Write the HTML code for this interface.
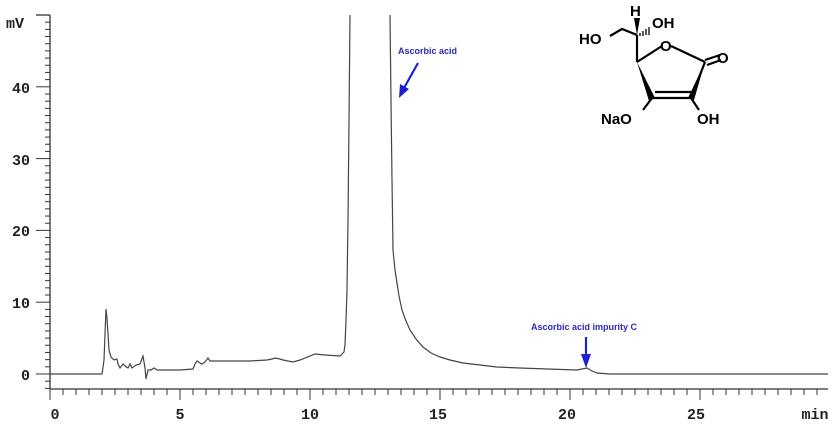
<!DOCTYPE html>
<html><head><meta charset="utf-8"><style>
html,body{margin:0;padding:0;background:#fff;}
svg{display:block;}
</style></head><body>
<svg width="834" height="426" viewBox="0 0 834 426" xmlns="http://www.w3.org/2000/svg">
<rect width="834" height="426" fill="#fff"/>
<g stroke="#333" stroke-width="1.3" fill="none">
<line x1="50" y1="15" x2="50" y2="389"/>
<line x1="36" y1="15" x2="50" y2="15"/>
<line x1="50" y1="389" x2="828" y2="389"/>
</g>
<g id="yt" stroke="#333" stroke-width="1"></g>
<g id="xt" stroke="#333" stroke-width="1"></g>
<g font-family="Liberation Mono, monospace" font-weight="bold" font-size="15" fill="#222">
<text x="6" y="28">mV</text>
<text x="30" y="93" text-anchor="end">40</text>
<text x="30" y="165" text-anchor="end">30</text>
<text x="30" y="236" text-anchor="end">20</text>
<text x="30" y="308" text-anchor="end">10</text>
<text x="30" y="380" text-anchor="end">0</text>
<text x="55" y="419" text-anchor="middle">0</text>
<text x="180" y="419" text-anchor="middle">5</text>
<text x="310" y="419" text-anchor="middle">10</text>
<text x="438" y="419" text-anchor="middle">15</text>
<text x="567" y="419" text-anchor="middle">20</text>
<text x="696" y="419" text-anchor="middle">25</text>
<text x="815" y="419" text-anchor="middle">min</text>
</g>
<path fill="none" stroke="#444" stroke-width="1.2" d="M50,374 L102,374 L104,360 L106,309 L107,318 L109,350 L111,357 L114,360 L117,359 L118,364 L120,368 L123,364 L125,366 L128,368 L130,364 L132,368 L136,365 L140,364 L143,356 L145,368 L146,379 L148,370 L151,370 L154,368 L157,370 L170,370 L180,370 L193,369 L195,364 L197,361 L200,363 L202,364 L205,362 L208,358 L210,361 L212,361 L233,361 L250,361 L267,360 L272,359 L275,358 L280,359 L283,360 L293,362 L300,360 L315,354 L325,355 L340,356 L344,352 L345,345 L346,320 L347,290 L348,220 L349,120 L350,15 M390,15 L391,100 L392,180 L393,250 L395,270 L397,283 L399,296 L402,310 L406,321 L410,330 L416,339 L423,347 L431,353 L440,357 L450,360 L463,363 L480,365 L497,367 L520,368 L547,369 L577,370 L582,369 L587,368 L592,371 L597,373 L610,374 L650,374 L740,374 L828,374"/>
<g font-family="Liberation Sans, sans-serif" font-weight="bold" font-size="9" fill="#2a2ab8">
<text x="398" y="54">Ascorbic acid</text>
<text x="531" y="330">Ascorbic acid impurity C</text>
</g>
<g stroke="#1f1fd0" stroke-width="2.2" fill="#1f1fd0">
<line x1="418" y1="63" x2="404" y2="88"/>
<polygon points="399,98 400,84 409,89" stroke="none"/>
<line x1="586" y1="337" x2="586" y2="358"/>
<polygon points="586,368 581,354 591,354" stroke="none"/>
</g>
<g stroke="#000" stroke-width="2.2" fill="none">
<polyline points="610,36 622,29 637,35"/>
<line x1="637" y1="35" x2="637" y2="62"/>
<line x1="637" y1="62" x2="662" y2="46"/>
<line x1="671" y1="46" x2="705" y2="62"/>
<line x1="705" y1="62" x2="691" y2="98"/>
<line x1="691" y1="98" x2="652" y2="98"/>
<line x1="691" y1="92" x2="655" y2="92"/>
<line x1="705" y1="60" x2="720" y2="55"/>
<line x1="707" y1="65" x2="721" y2="60"/>
<line x1="652" y1="98" x2="643" y2="110"/>
<line x1="691" y1="98" x2="699" y2="110"/>
</g>
<polygon points="637,62 649,101 655,98" fill="#000"/>
<polygon points="705,62 688,98 694,100" fill="#000"/>
<polygon points="637,35 634,18 640,18" fill="#000"/>
<g stroke="#000" stroke-width="1.3">
<line x1="640" y1="33" x2="640" y2="36"/><line x1="643" y1="31" x2="643" y2="36"/><line x1="646" y1="29" x2="646" y2="35"/><line x1="649" y1="27" x2="649" y2="35"/>
</g>
<g font-family="Liberation Sans, sans-serif" font-weight="bold" font-size="15" fill="#000">
<text x="630" y="16">H</text>
<text x="652" y="28">OH</text>
<text x="579" y="44">HO</text>
<text x="660" y="51">O</text>
<text x="717" y="63">O</text>
<text x="601" y="124">NaO</text>
<text x="697" y="124">OH</text>
</g>
<script>
var yt=document.getElementById('yt'),xt=document.getElementById('xt'),ns='http://www.w3.org/2000/svg';
function L(g,a,b,c,d){var l=document.createElementNS(ns,'line');l.setAttribute('x1',a);l.setAttribute('y1',b);l.setAttribute('x2',c);l.setAttribute('y2',d);g.appendChild(l);}
for(var i=-2;i<=49;i++){var y=374-i*7.18;L(yt,i%10==0?36:45,y,50,y);}
for(var j=0;j<=59;j++){var x=50+j*13;if(x>828)break;L(xt,x,389,x,j%10==0?400:395);}
</script>
</svg>
</body></html>
